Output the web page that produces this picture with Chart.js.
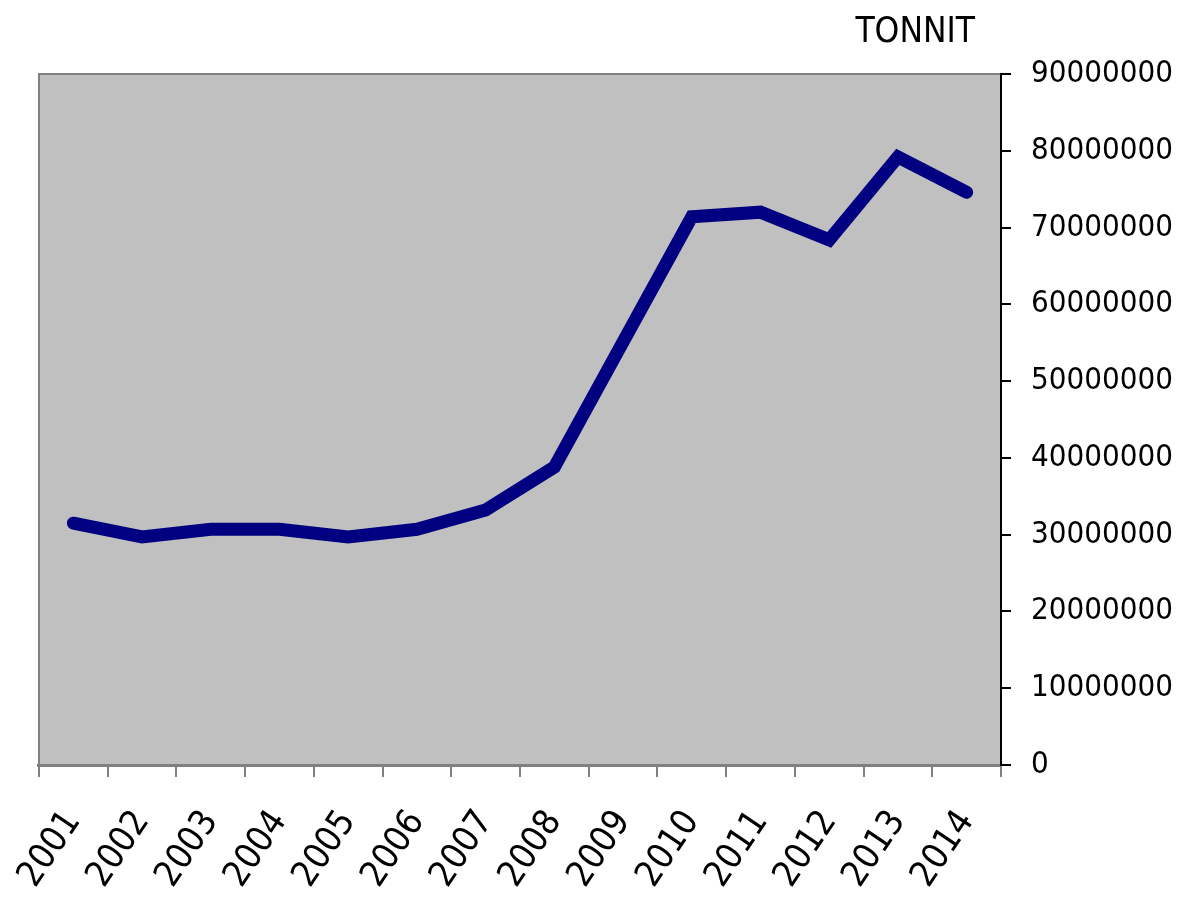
<!DOCTYPE html>
<html>
<head>
<meta charset="utf-8">
<script src="https://cdn.jsdelivr.net/npm/chart.js@4/dist/chart.umd.min.js"></script>
<style>
  body { margin: 0; background: #fff; }
</style>
</head>
<body>
<canvas id="chart1" width="1182" height="897"></canvas>
<script>
// values (tonnes per year)
var years = ["2001","2002","2003","2004","2005","2006","2007","2008","2009","2010","2011","2012","2013","2014"];
var tonnes = [31500000, 29700000, 30700000, 30700000, 29700000, 30700000, 33200000, 38800000, 55100000, 71400000, 72000000, 68400000, 79200000, 74600000];
var unitLabel = "TONNIT";

var narrow = "'Liberation Sans Narrow', 'DejaVu Sans Condensed', 'Liberation Sans', sans-serif";

// grey plot area plus the thin grey frame on left/top
var plotBg = {
    id: 'plotBg',
    beforeDraw: function(chart) {
        var c = chart.ctx, a = chart.chartArea;
        c.save();
        c.fillStyle = '#C0C0C0';
        c.fillRect(a.left, a.top, a.right - a.left, a.bottom - a.top);
        c.strokeStyle = '#808080';
        c.lineWidth = 2;
        c.beginPath();
        c.moveTo(a.left, a.bottom);
        c.lineTo(a.left, a.top);
        c.lineTo(a.right, a.top);
        c.stroke();
        c.restore();
    },
    afterDraw: function(chart) {
        var c = chart.ctx, a = chart.chartArea;
        c.save();
        c.fillStyle = '#000';
        c.font = '35px ' + narrow;
        c.textAlign = 'right';
        c.textBaseline = 'alphabetic';
        c.fillText(unitLabel, a.right - 26, 42);
        c.restore();
    }
};

var ctx = document.getElementById("chart1").getContext('2d');
var chart1 = new Chart(ctx, {
    type: 'line',
    data: {
        labels: years,
        datasets: [{
            label: unitLabel,
            data: tonnes,
            fill: false,
            borderColor: '#000080',
            backgroundColor: '#000080',
            borderWidth: 13,
            borderCapStyle: 'round',
            borderJoinStyle: 'miter',
            pointRadius: 0,
            tension: 0
        }]},
    options: {
        responsive: false,
        animation: false,
        layout: { padding: { left: 35, top: 74, right: 0, bottom: 0 } },
        plugins: { legend: { display: false }, tooltip: { enabled: false } },
        scales: {
            x: {
                offset: true,
                grid: { offset: true, drawOnChartArea: false, drawTicks: true, tickLength: 12, color: '#808080', lineWidth: 2 },
                border: { display: true, color: '#808080', width: 3 },
                ticks: { color: '#000', font: { family: narrow, size: 36 }, minRotation: 56, maxRotation: 56, padding: 26, autoSkip: false },
                afterFit: function(s) { s.height = 132; }
            },
            y: {
                position: 'right',
                min: 0,
                max: 90000000,
                grid: { drawOnChartArea: false, drawTicks: true, tickLength: 10, color: '#000', lineWidth: 2 },
                border: { display: true, color: '#000', width: 2 },
                ticks: {
                    stepSize: 10000000,
                    color: '#000',
                    padding: 20,
                    font: { family: narrow, size: 31 },
                    callback: function(v) { return String(v); }
                },
                afterFit: function(s) { s.width = 181; }
            }
        }
    },
    plugins: [plotBg]
});
</script>
</body>
</html>
